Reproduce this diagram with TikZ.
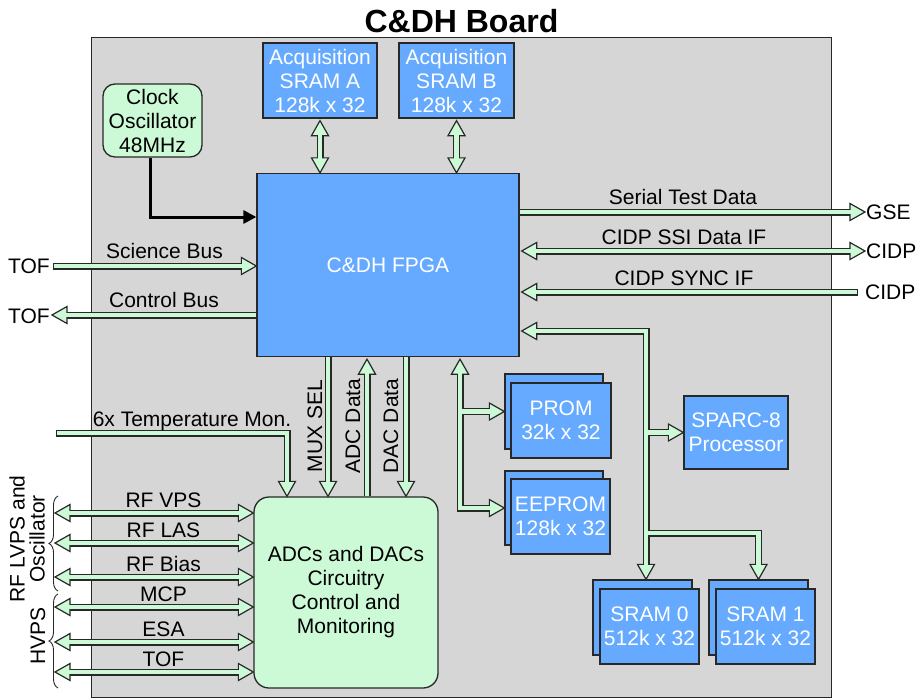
\documentclass[tikz,border=0pt]{standalone}
\usepackage{fontspec}
\setmainfont{Liberation Sans}
\usetikzlibrary{calc,arrows.meta,decorations.pathreplacing}
\definecolor{boxblue}{RGB}{102,170,255}
\definecolor{busgreen}{RGB}{204,250,214}
\definecolor{boardgray}{RGB}{214,214,214}
\definecolor{edgec}{RGB}{40,40,40}

\newcommand\buslist{%
  \seg{shorten <=-2pt, shorten >=-2pt}{($(sramA.south)+(0,17)$) -- ($(sramA.south|-fpga.north)+(0,-15)$)}
  \seg{shorten <=-2pt, shorten >=-2pt}{($(sramB.south)+(0,17)$) -- ($(sramB.south|-fpga.north)+(0,-15)$)}
  \seg{shorten <=1.2pt, shorten >=-2pt}{(sciL) -- ($(fpga.west|-sciL)+(-15,0)$)}
  \seg{shorten <=-2pt}{($(ctlL)+(15,0)$) -- (fpga.west|-ctlL)}
  \seg{shorten >=-2pt}{(fpga.east|-gseT) -- ($(gseT)+(-15,0)$)}
  \seg{shorten <=-2pt, shorten >=-2pt}{($(fpga.east|-ssiR)+(17,0)$) -- ($(ssiR)+(-15,0)$)}
  \seg{shorten <=-2pt, shorten >=1.2pt}{($(fpga.east|-syncR)+(17,0)$) -- (syncR)}
  \seg{shorten <=-2pt, shorten >=-2pt}{($(fpga.east|-trA)+(17,0)$) -- (trA) -- ($(trA|-sram0B.north)+(0,-15)$)}
  \seg{shorten >=-2pt}{(trA|-sparc.west) -- ($(sparc.west)+(-15,0)$)}
  \seg{shorten >=-2pt}{(trB) -- (sram1B.north|-trB) -- ($(sram1B.north)+(0,-15)$)}
  \seg{shorten <=-2pt, shorten >=-2pt}{($(pmX|-fpga.south)+(0,17)$) -- (pmX) -- ($(eepB.west|-pmX)+(-15,0)$)}
  \seg{shorten >=-2pt}{(pmX|-promB.west) -- ($(promB.west)+(-15,0)$)}
  \seg{shorten >=-2pt}{(muxX|-fpga.south) -- ($(muxX|-adc.north)+(0,-15)$)}
  \seg{shorten <=-2pt}{($(adcX|-fpga.south)+(0,17)$) -- (adcX|-adc.north)}
  \seg{shorten >=-2pt}{(dacX|-fpga.south) -- ($(dacX|-adc.north)+(0,-15)$)}
  \seg{shorten <=1.2pt, shorten >=-2pt}{(tmL) -- (tmC) -- ($(tmC|-adc.north)+(0,-15)$)}
  \foreach \yy in {513,543,577,607,642,672}{%
    \coordinate (ly) at (55,\yy);
    \seg{shorten <=-2pt, shorten >=-2pt}{($(ly)+(15,0)$) -- ($(adc.west|-ly)+(-15,0)$)}
  }%
}

\begin{document}
\begin{tikzpicture}[x=1pt,y=-1pt,
  lbl/.style={font=\fontsize{21}{24}\selectfont, inner sep=0pt},
  blk/.style={draw=edgec, line width=1.3pt, fill=boxblue, text=white, align=center,
              inner sep=0pt, font=\fontsize{21}{24}\selectfont},
  gblk/.style={draw=edgec, line width=1.3pt, fill=busgreen, align=center,
               inner sep=0pt, font=\fontsize{21}{24}\selectfont, rounded corners=12pt},
  busout/.style={draw=edgec, line width=7pt, line join=miter},
  busin/.style={draw=busgreen, line width=4.6pt, line join=miter},
  fhead/.pic={\draw[draw=edgec, fill=busgreen, line width=1.2pt, line join=miter]
              (0,0) -- (-15,8.5) -- (-15,-8.5) -- cycle;}
]
\useasboundingbox (0,0) rectangle (921,699);

% board and title
\node[draw=edgec, line width=1.3pt, fill=boardgray, minimum width=740pt,
      minimum height=660pt, anchor=north west, inner sep=0pt] (board) at (91,37) {};
\node[font=\bfseries\fontsize{32}{36}\selectfont, inner sep=0pt] (title) at (461.5,21) {C\&DH Board};

% blocks
\node[blk, minimum width=114pt, minimum height=75pt] (sramA) at (320,80.5) {Acquisition\\SRAM A\\128k x 32};
\node[blk, minimum width=115pt, minimum height=75pt] (sramB) at (456.5,80.5) {Acquisition\\SRAM B\\128k x 32};
\node[gblk, minimum width=99pt, minimum height=73pt] (clock) at (152.5,120.5) {Clock\\Oscillator\\48MHz};
\node[blk, minimum width=262pt, minimum height=183pt] (fpga) at (388,265) {C\&DH FPGA};
\node[gblk, rounded corners=15pt, minimum width=184pt, minimum height=191pt] (adc) at (346,592.5)
     {ADCs and DACs\\Circuitry\\Control and\\Monitoring};
\node[blk, minimum width=98pt, minimum height=75pt] (promB) at (554,411.5) {};
\node[blk, minimum width=100pt, minimum height=75pt] (prom) at (561,420.5) {PROM\\32k x 32};
\node[blk, minimum width=98pt, minimum height=74pt] (eepB) at (554,508) {};
\node[blk, minimum width=99pt, minimum height=75pt] (eep) at (560.5,516.5) {EEPROM\\128k x 32};
\node[blk, minimum width=104pt, minimum height=73pt] (sparc) at (736,432.5) {SPARC-8\\Processor};
\node[blk, minimum width=99pt, minimum height=75pt] (sram0B) at (642.5,617.5) {};
\node[blk, minimum width=99pt, minimum height=75pt] (sram0) at (649.5,626.5) {SRAM 0\\512k x 32};
\node[blk, minimum width=99pt, minimum height=75pt] (sram1B) at (758.5,617.5) {};
\node[blk, minimum width=99pt, minimum height=75pt] (sram1) at (765.5,626.5) {SRAM 1\\512k x 32};

% free ends and bends
\coordinate (sciL) at (53,266);
\coordinate (ctlL) at (52,315);
\coordinate (gseT) at (865,212);
\coordinate (ssiR) at (865,251);
\coordinate (syncR) at (858,292);
\coordinate (trA) at (646,331);
\coordinate (trB) at (646,533);
\coordinate (pmX) at (460,508);
\coordinate (muxX) at (328,430);
\coordinate (adcX) at (367,430);
\coordinate (dacX) at (406,430);
\coordinate (tmL) at (56,433);
\coordinate (tmC) at (287,433);
\coordinate (clkC) at (150,217);

% pass 1: bus outlines
\def\seg#1#2{\draw[busout] #2;}
\buslist

% pass 2: arrow heads
\pic[rotate=90] at ($(sramA.south)+(0,2)$) {fhead};
\pic[rotate=-90] at (sramA.south|-fpga.north) {fhead};
\pic[rotate=90] at ($(sramB.south)+(0,2)$) {fhead};
\pic[rotate=-90] at (sramB.south|-fpga.north) {fhead};
\pic at (fpga.west|-sciL) {fhead};
\pic[rotate=180] at (ctlL) {fhead};
\pic at (gseT) {fhead};
\pic at (ssiR) {fhead};
\pic[rotate=180] at ($(fpga.east|-ssiR)+(2,0)$) {fhead};
\pic[rotate=180] at ($(fpga.east|-syncR)+(2,0)$) {fhead};
\pic[rotate=180] at ($(fpga.east|-trA)+(2,0)$) {fhead};
\pic at (sparc.west) {fhead};
\pic[rotate=-90] at (trA|-sram0B.north) {fhead};
\pic[rotate=-90] at (sram1B.north) {fhead};
\pic[rotate=90] at ($(pmX|-fpga.south)+(0,2)$) {fhead};
\pic at (promB.west) {fhead};
\pic at (eepB.west|-pmX) {fhead};
\pic[rotate=-90] at (muxX|-adc.north) {fhead};
\pic[rotate=90] at ($(adcX|-fpga.south)+(0,2)$) {fhead};
\pic[rotate=-90] at (dacX|-adc.north) {fhead};
\pic[rotate=-90] at (tmC|-adc.north) {fhead};
\foreach \yy in {513,543,577,607,642,672}{
  \coordinate (ly) at (55,\yy);
  \pic[rotate=180] at (ly) {fhead};
  \pic at (adc.west|-ly) {fhead};
}

% pass 3: bus interiors
\def\seg#1#2{\draw[busin,#1] #2;}
\buslist

% clock line
\draw[black, line width=3pt, -{Triangle[length=13pt,width=13pt]}]
  (clock.south-|clkC) -- (clkC) -- (fpga.west|-clkC);

% labels
\node[lbl, anchor=base] (lsci) at (164.5,258.5) {Science Bus};
\node[lbl, anchor=base] (lctl) at (164,307.5) {Control Bus};
\node[lbl, anchor=base] (lser) at (683,204.5) {Serial Test Data};
\node[lbl, anchor=base] (lssi) at (684,244.5) {CIDP SSI Data IF};
\node[lbl, anchor=base] (lsync) at (684,285.5) {CIDP SYNC IF};
\node[lbl, anchor=west] (gse) at (866,212) {GSE};
\node[lbl, anchor=west] (cidpA) at (866,251) {CIDP};
\node[lbl, anchor=west] (cidpB) at (865,292) {CIDP};
\node[lbl, anchor=east] (tofA) at (50,266) {TOF};
\node[lbl, anchor=east] (tofB) at (50,316) {TOF};
\node[lbl, anchor=base] (ltemp) at (192,426) {6x Temperature Mon.};
\foreach \yy/\tt [count=\i] in {513/RF VPS,543/RF LAS,577/RF Bias,607/MCP,642/ESA,672/TOF}{
  \node[lbl, anchor=base] (lleft\i) at (163.5,\yy-6) {\tt};
}
\node[lbl, rotate=90, anchor=base] (lmux) at (322,426) {MUX SEL};
\node[lbl, rotate=90, anchor=base] (ladc) at (360,426) {ADC Data};
\node[lbl, rotate=90, anchor=base] (ldac) at (398,426) {DAC Data};
\node[lbl, rotate=90, align=center, font=\fontsize{21}{20}\selectfont] (lrf) at (27,539) {RF LVPS and\\Oscillator};
\node[lbl, rotate=90, anchor=base] (lhv) at (45,636) {HVPS};

% braces
\draw[edgec, line width=0.9pt, decorate, decoration={brace, amplitude=9pt}] (58,591) -- (58,496);
\draw[edgec, line width=0.9pt, decorate, decoration={brace, amplitude=9pt}] (58,688) -- (58,594);
\end{tikzpicture}
\end{document}
